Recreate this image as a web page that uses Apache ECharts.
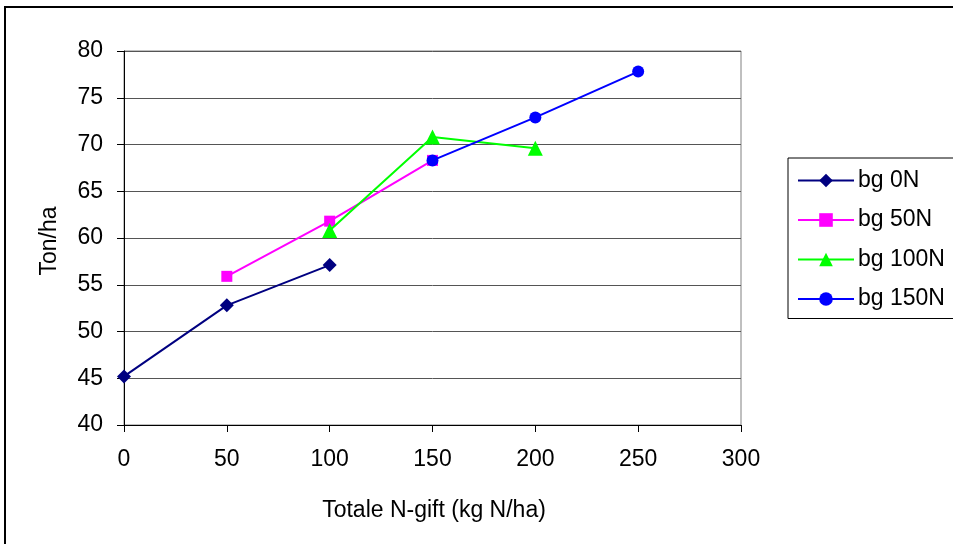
<!DOCTYPE html>
<html>
<head>
<meta charset="utf-8">
<script src="https://cdn.jsdelivr.net/npm/echarts@6/dist/echarts.min.js"></script>
<style>
  html, body { margin: 0; padding: 0; background: #fff; }
  #chart { width: 953px; height: 544px; }
</style>
</head>
<body>
<div id="chart"></div>
<script>
// Total nitrogen applied (kg N/ha) and yield (ton/ha) per base-dressing level
const seriesNames = ['bg 0N', 'bg 50N', 'bg 100N', 'bg 150N'];
const bg0N   = [[0, 45.2], [50, 52.8], [100, 57.1]];
const bg50N  = [[50, 55.9], [100, 61.8], [150, 68.3]];
const bg100N = [[100, 60.8], [150, 70.8], [200, 69.6]];
const bg150N = [[150, 68.3], [200, 72.9], [250, 77.8]];
const xTicks = { min: 0, max: 300, step: 50 };
const yTicks = { min: 40, max: 80, step: 5 };

const FONT = "'Liberation Sans', Arial, sans-serif";
const FS = 23;

const styles = [
  { color: '#000080', symbol: 'diamond',  size: 14 },
  { color: '#ff00ff', symbol: 'rect',     size: 11 },
  { color: '#00ff00', symbol: 'triangle', size: 15 },
  { color: '#0000ff', symbol: 'circle',   size: 12 }
];
const dataSets = [bg0N, bg50N, bg100N, bg150N];

const chart = echarts.init(document.getElementById('chart'), null, { renderer: 'canvas' });

chart.setOption({
  animation: false,
  backgroundColor: '#ffffff',
  textStyle: { fontFamily: FONT },
  grid: {
    left: 124, right: 212, top: 51, bottom: 119,
    show: true, borderColor: '#808080', borderWidth: 1, backgroundColor: '#ffffff'
  },
  xAxis: {
    type: 'value',
    min: xTicks.min, max: xTicks.max, interval: xTicks.step,
    axisLine: { show: true, lineStyle: { color: '#000', width: 1 } },
    axisTick: { show: true, length: 7, lineStyle: { color: '#000' } },
    axisLabel: { color: '#000', fontSize: FS, fontFamily: FONT, margin: 23 },
    splitLine: { show: false }
  },
  yAxis: {
    type: 'value',
    min: yTicks.min, max: yTicks.max, interval: yTicks.step,
    axisLine: { show: true, lineStyle: { color: '#000', width: 1 } },
    axisTick: { show: true, length: 7, lineStyle: { color: '#000' } },
    axisLabel: { color: '#000', fontSize: FS, fontFamily: FONT, margin: 21 },
    splitLine: { show: true, lineStyle: { color: '#555', width: 1 } }
  },
  legend: {
    orient: 'vertical',
    left: 788, top: 158,
    padding: [11, 30, 8, 9],
    itemGap: 16.5,
    itemWidth: 56, itemHeight: 17,
    borderColor: '#000', borderWidth: 1,
    backgroundColor: '#fff',
    textStyle: { color: '#000', fontSize: FS, fontFamily: FONT, padding: [0, 0, 0, -1] },
    data: seriesNames
  },
  graphic: [
    {
      type: 'rect', silent: true, z: -1,
      shape: { x: 5, y: 7, width: 1000, height: 600 },
      style: { fill: 'none', stroke: '#000', lineWidth: 2 }
    },
    {
      type: 'text', x: 50, y: 241, rotation: Math.PI / 2,
      style: { text: 'Ton/ha', fontSize: FS, fontFamily: FONT, fill: '#000', align: 'center', verticalAlign: 'middle' }
    },
    {
      type: 'text', x: 434, y: 511,
      style: { text: 'Totale N-gift (kg N/ha)', fontSize: FS, fontFamily: FONT, fill: '#000', align: 'center', verticalAlign: 'middle' }
    }
  ],
  series: dataSets.map((d, i) => ({
    name: seriesNames[i],
    type: 'line',
    data: d,
    symbol: styles[i].symbol,
    symbolSize: styles[i].size,
    showAllSymbol: true,
    lineStyle: { color: styles[i].color, width: 2 },
    itemStyle: { color: styles[i].color, borderWidth: 0 },
    z: 2 + i
  }))
});
</script>
</body>
</html>
